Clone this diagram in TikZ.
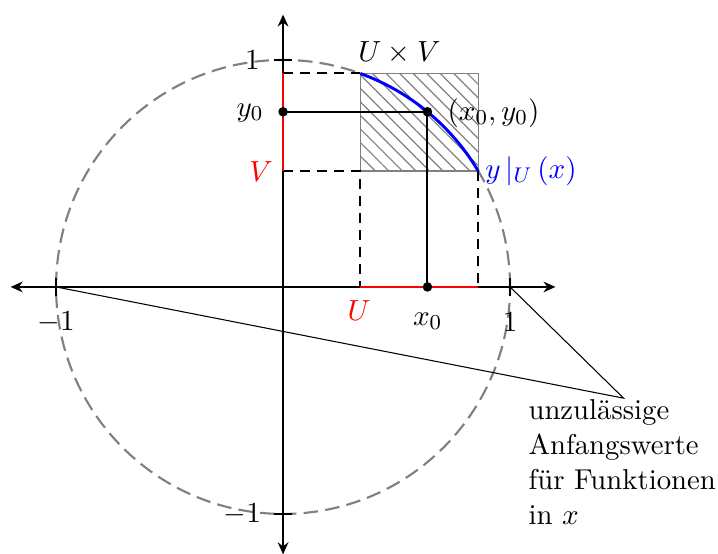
\documentclass[tikz,border=0pt]{standalone}
\usetikzlibrary{arrows.meta,patterns.meta}
\begin{document}
\begin{tikzpicture}[x=3cm,y=3cm,
  every node/.style={font=\fontsize{10.8}{13.2}\selectfont},
  axis/.style={line width=0.85pt,{Stealth[length=4.5pt,width=4pt]}-{Stealth[length=4.5pt,width=4pt]}},
  circ/.style={gray,line width=0.8pt,dash pattern=on 5.5pt off 2.7pt},
  guide/.style={line width=0.75pt,dash pattern=on 3.8pt off 2.6pt},
  sol/.style={line width=0.75pt},
  interval/.style={red,line width=1.05pt},
  dot/.style={circle,fill=black,inner sep=0pt,minimum size=3.6pt},
  ann/.style={line width=0.4pt},
  tick/.style={line width=0.75pt}]
\useasboundingbox (-1.247,-1.176) rectangle (1.916,1.264);
\def\aU{70.12}\def\aV{30.68}\def\aP{50.5}
\coordinate (O) at (0,0);
\coordinate (A) at (\aU:1);
\coordinate (B) at (\aV:1);
\coordinate (P) at (\aP:1);
\coordinate (xl) at (-1.2,0);
\coordinate (xr) at (1.2,0);
\coordinate (yb) at (0,-1.178);
\coordinate (yt) at (0,1.2);
\coordinate (m1) at (-1,0);
\coordinate (p1) at (1,0);
\coordinate (C) at (1.5,-0.49);
% hatched rectangle
\fill[pattern={Lines[angle=-45,distance=3.6pt,line width=0.45pt]},pattern color=gray] (A) rectangle (B);
\draw[gray,line width=0.5pt] (A) rectangle (B);
% circle
\draw[circ] (O) circle[radius=1];
% dashed guides
\draw[guide] (A -| O) -- (A);
\draw[guide] (B -| O) -- (A |- B) -- (A |- O);
\draw[guide] (B) -- (B |- O);
% axes
\draw[axis] (xl) -- (xr);
\draw[axis] (yb) -- (yt);
% ticks
\draw[tick] (-1,-0.04) -- (-1,0.04);
\draw[tick] (1,-0.04) -- (1,0.04);
\draw[tick] (-0.04,1) -- (0.04,1);
\draw[tick] (-0.04,-1) -- (0.04,-1);
% intervals
\draw[interval] (A -| O) -- (B -| O);
\draw[interval] (A |- O) -- (B |- O);
% arc
\draw[blue,line width=1.1pt] (A) arc[start angle=\aU,end angle=\aV,radius=1];
% solution lines
\draw[sol] (P -| O) -- (P) -- (P |- O);
\node[dot] (d1) at (P -| O) {};
\node[dot] (d2) at (P) {};
\node[dot] (d3) at (P |- O) {};
% labels
\node (ly1) at (-0.135,1.0) {$1$};
\node (lym1) at (-0.18,-1.0) {$-1$};
\node (lxm1) at (-1.0,-0.155) {$-1$};
\node (lx1) at (1.0,-0.155) {$1$};
\node[red] (lU) at (0.335,-0.105) {$U$};
\node (lx0) at (0.637,-0.15) {$x_0$};
\node (lUV) at (0.513,1.03) {$U\times V$};
\node (ly0) at (-0.145,0.768) {$y_0$};
\node[red] (lV) at (-0.097,0.51) {$V$};
\node (lP) at (0.927,0.768) {$\bigl(x_0,y_0\bigr)$};
\node[blue] (lf) at (1.092,0.51) {$y\,|_U\,(x)$};
% annotation
\draw[ann] (m1) -- (C) -- (p1);
\node[anchor=north west,align=left] (note) at (1.04,-0.455) {unzulässige\\Anfangswerte\\für Funktionen\\in $x$};
\end{tikzpicture}
\end{document}
